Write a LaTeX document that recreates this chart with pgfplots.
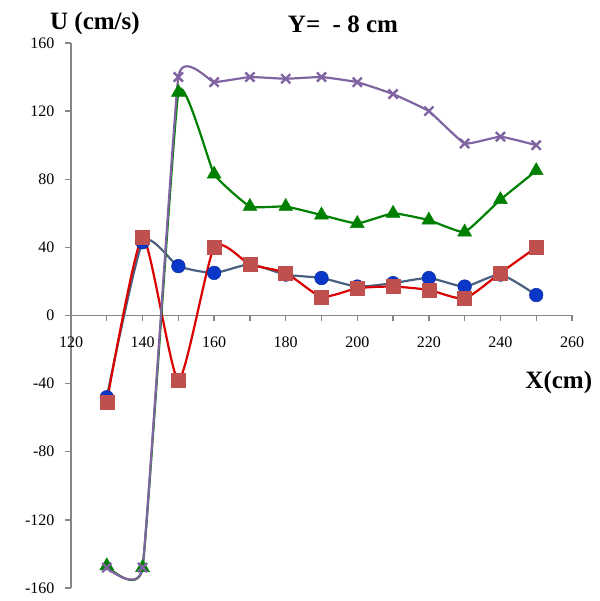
\documentclass[border=0pt]{standalone}
\usepackage{pgfplots}
\pgfplotsset{compat=1.18}
\usepackage{fontspec}
\setmainfont{Liberation Serif}
\definecolor{blueline}{RGB}{74,96,128}
\definecolor{bluemark}{RGB}{10,55,200}
\definecolor{redline}{RGB}{218,0,0}
\definecolor{redmark}{RGB}{192,80,77}
\definecolor{greenc}{RGB}{0,128,0}
\definecolor{purplec}{RGB}{128,100,162}
\definecolor{axgray}{RGB}{134,134,134}
\begin{document}
\begin{tikzpicture}
\useasboundingbox (-71pt,-13pt) rectangle (528pt,588pt);
\begin{axis}[
  at={(0,0)}, anchor=south west,
  scale only axis,
  width=501pt, height=545pt,
  xmin=120, xmax=260, ymin=-160, ymax=160,
  axis lines=middle,
  axis line style={-, axgray, line width=1.6pt},
  hide obscured x ticks=false, hide obscured y ticks=false,
  xtick={120,140,...,260},
  minor xtick={130,150,...,250},
  ytick={-160,-120,...,160},
  tick align=outside,
  major tick length=6pt, minor tick length=6pt,
  every tick/.style={axgray, line width=1.4pt},
  tick label style={font=\fontsize{16}{19}\selectfont},
  /pgf/number format/assume math mode=true,
  /pgf/number format/1000 sep={},
  xticklabel style={yshift=-12pt},
  yticklabel style={xshift=-7pt},
  clip=false,
]
\addplot[blueline, line width=2.2pt, smooth, tension=0.35, mark=*, mark size=6.8pt,
  mark options={fill=bluemark, draw=bluemark!80!black, line width=0.5pt}]
  coordinates {(130,-48) (140,43) (150,29) (160,25) (170,30) (180,24) (190,22) (200,17) (210,19) (220,22) (230,17) (240,24) (250,12)};
\addplot[redline, line width=2.2pt, smooth, tension=0.35, mark=square*, mark size=7pt,
  mark options={fill=redmark, draw=redmark, line width=0.5pt}]
  coordinates {(130,-51) (140,46) (150,-38) (160,40) (170,30) (180,25) (190,11) (200,16) (210,17) (220,15) (230,10) (240,25) (250,40)};
\addplot[greenc, line width=2.2pt, smooth, tension=0.22, mark=triangle*, mark size=8pt,
  mark options={fill=greenc, draw=greenc, line width=0.5pt}]
  coordinates {(130,-147) (140,-148) (150,131) (160,83) (170,64) (180,64) (190,59) (200,54) (210,60) (220,56) (230,49) (240,68) (250,85)};
\addplot[purplec, line width=2.2pt, smooth, tension=0.2, mark=x, mark size=6.5pt,
  mark options={draw=purplec, line width=2.4pt}]
  coordinates {(130,-148) (140,-148) (150,140) (160,137) (170,140) (180,139) (190,140) (200,137) (210,130) (220,120) (230,101) (240,105) (250,100)};
\node[font=\fontsize{25}{29}\selectfont\bfseries] at (axis cs:126.7,171.2) {U (cm/s)};
\node[font=\fontsize{25}{29}\selectfont\bfseries] at (axis cs:196,171.2) {Y=\ \ - 8 cm};
\node[font=\fontsize{25}{29}\selectfont\bfseries] at (axis cs:256.3,-39.3) {X(cm)};
\end{axis}
\end{tikzpicture}
\end{document}
